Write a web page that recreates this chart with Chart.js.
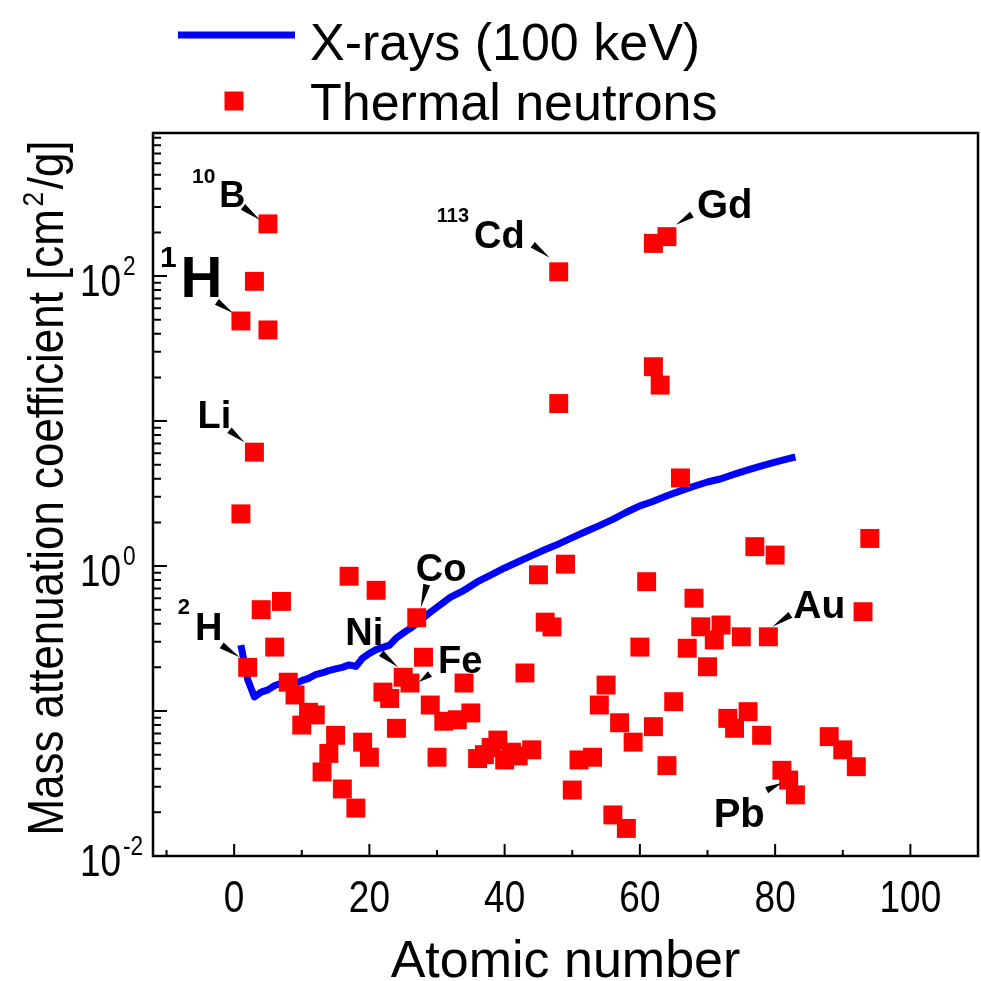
<!DOCTYPE html>
<html>
<head>
<meta charset="utf-8">
<script src="https://cdn.jsdelivr.net/npm/chart.js@4.4.1/dist/chart.umd.min.js"></script>
<style>
    html, body { margin: 0; padding: 0; background: #fff; }
    canvas { display: block; }
</style>
</head>
<body>
<canvas id="attenuationChart" width="981" height="981"></canvas>
<script>
// X-rays (100 keV): atomic number vs mass attenuation coefficient [cm2/g]
const xrayZ = [1, 2, 3, 4, 5, 6, 7, 8, 9, 10, 11, 12, 13, 14, 15, 16, 17, 18, 19, 20,
    21, 22, 23, 24, 25, 26, 27, 28, 29, 30, 32, 34, 36, 38, 40, 42, 44, 46, 48, 50,
    52, 54, 56, 58, 60, 62, 64, 66, 68, 70, 72, 74, 76, 78, 80, 82, 83];
const xrayMu = [0.285, 0.165, 0.125, 0.135, 0.14, 0.15, 0.155, 0.157, 0.155, 0.162,
    0.168, 0.178, 0.183, 0.19, 0.195, 0.2, 0.208, 0.203, 0.232, 0.25,
    0.265, 0.275, 0.285, 0.32, 0.345, 0.37, 0.4, 0.44, 0.48, 0.52,
    0.61, 0.68, 0.78, 0.87, 0.97, 1.07, 1.18, 1.3, 1.42, 1.57,
    1.73, 1.9, 2.1, 2.35, 2.6, 2.8, 3.05, 3.3, 3.55, 3.8,
    4.0, 4.3, 4.6, 4.9, 5.2, 5.5, 5.65];

// Thermal neutrons
const neutronZ = [1, 1, 2, 3, 3, 4, 5, 5, 6, 7, 8, 9, 10, 11, 12, 13, 14, 15, 16, 17,
    18, 19, 20, 21, 22, 23, 24, 25, 26, 27, 28, 29, 30, 31, 33, 34, 35, 36, 37, 38,
    39, 40, 41, 42, 43, 44, 45, 46, 47, 48, 48, 49, 50, 51, 53, 54, 55, 56, 57, 58,
    59, 60, 61, 62, 62, 62, 63, 64, 64, 65, 66, 67, 68, 69, 70, 71, 72, 73, 74, 75,
    76, 77, 78, 79, 80, 81, 82, 83, 88, 90, 92, 93, 94];
const neutronMu = [49, 2.29, 0.2, 92, 6.1, 0.5, 229, 42.5, 0.276, 0.57, 0.158, 0.129, 0.08, 0.098, 0.094, 0.038, 0.051, 0.068, 0.029, 0.85,
    0.0214, 0.061, 0.048, 0.68, 0.135, 0.122, 0.076, 0.171, 0.156, 0.44, 0.235, 0.11, 0.048, 0.085, 0.087, 0.156, 0.097, 0.047, 0.05, 0.056,
    0.063, 0.046, 0.052, 0.049, 0.183, 0.054, 0.87, 0.41, 0.38, 107, 13.2, 1.03, 0.0285, 0.046, 0.048, 0.11, 0.151, 0.0192, 0.083, 0.0155,
    0.061, 0.276, 0.78, 168, 23.7, 0.078, 17.7, 187, 0.042, 0.116, 4.05, 0.271, 0.6, 0.381, 0.202, 0.309, 0.392, 0.089, 0.076, 0.325,
    0.099, 1.36, 0.068, 0.325, 1.19, 0.039, 0.0334, 0.0264, 0.0666, 0.054, 0.0413, 0.484, 1.55];

// axis ticks
const xMajorTicks = [0, 20, 40, 60, 80, 100];
const xMinorTicks = [-10, 10, 30, 50, 70, 90];
const yLabelExponents = [-2, 0, 2];

// element annotations
const labelIsotopes = ['10', '1', '', '2', '', '', '', '113', '', '', ''];
const labelNames = ['B', 'H', 'Li', 'H', 'Ni', 'Co', 'Fe', 'Cd', 'Gd', 'Au', 'Pb'];
const labelZ = [5, 1, 3, 2, 25, 27, 26, 48, 64, 79, 82];
const labelMu = [229, 49, 6.1, 0.2, 0.171, 0.44, 0.156, 107, 187, 0.325, 0.0334];

// pixel offsets of each annotation from its point (layout only)
const labelLayout = [
    { dx: -76, dy: -17, size: 36, supSize: 21, raise: 24, gap: 4, arrow: [-25, -17, -8, -4] },
    { dx: -81, dy: -24, size: 58, supSize: 30, raise: 30, gap: 4, arrow: [-24, -19, -8, -8] },
    { dx: -57, dy: -24, size: 38, arrow: [-25, -22, -10, -10] },
    { dx: -70, dy: -27, size: 38, supSize: 22, raise: 26, gap: 5, arrow: [-26, -22, -8, -10] },
    { dx: -58, dy: -32, size: 38, arrow: [-22, -24, -5, -10] },
    { dx: -1, dy: -37, size: 38, arrow: [10, -33, 4, -10] },
    { dx: 28, dy: -10, size: 38, arrow: [20, -9, 9, -1] },
    { dx: -122, dy: -24, size: 38, supSize: 20, raise: 26, gap: 5, arrow: [-26, -27, -9, -14] },
    { dx: 30, dy: -19, size: 40, arrow: [25, -22, 9, -12] },
    { dx: 25, dy: -19, size: 39, arrow: [22, -22, 4, -10] },
    { dx: -75, dy: 47, size: 40, arrow: [-22, 10, -7, 3] }
];

const FONT = '"Liberation Sans", Arial, Helvetica, sans-serif';
const NARROW = 0.84;

function narrowText(ctx, text, x, y, size, align) {
    ctx.save();
    ctx.font = size + 'px ' + FONT;
    ctx.translate(x, y);
    ctx.scale(NARROW, 1);
    ctx.textAlign = align;
    ctx.textBaseline = 'alphabetic';
    ctx.fillText(text, 0, 0);
    ctx.restore();
}

function wedge(ctx, x1, y1, x2, y2, w) {
    const dx = x2 - x1, dy = y2 - y1, len = Math.hypot(dx, dy);
    const nx = -dy / len * w / 2, ny = dx / len * w / 2;
    ctx.beginPath();
    ctx.moveTo(x1 + nx, y1 + ny);
    ctx.lineTo(x1 - nx, y1 - ny);
    ctx.lineTo(x2, y2);
    ctx.closePath();
    ctx.fill();
}

const framePlugin = {
    id: 'frame',
    afterDraw(chart) {
        const { ctx, chartArea: a, scales: { x, y } } = chart;
        ctx.save();
        ctx.strokeStyle = '#000';
        ctx.fillStyle = '#000';

        // box
        ctx.lineWidth = 2.5;
        ctx.strokeRect(a.left, a.top, a.right - a.left, a.bottom - a.top);

        // inward ticks
        ctx.lineWidth = 2;
        ctx.beginPath();
        xMajorTicks.forEach(v => {
            const px = x.getPixelForValue(v);
            ctx.moveTo(px, a.bottom); ctx.lineTo(px, a.bottom - 12);
        });
        xMinorTicks.forEach(v => {
            const px = x.getPixelForValue(v);
            ctx.moveTo(px, a.bottom); ctx.lineTo(px, a.bottom - 6);
        });
        for (let e = -2; e <= 2; e++) {
            for (let m = 1; m <= 9; m++) {
                const v = m * Math.pow(10, e);
                if (v > y.max) break;
                const py = y.getPixelForValue(v);
                ctx.moveTo(a.left, py); ctx.lineTo(a.left + (m === 1 ? 14 : 8), py);
            }
        }
        ctx.stroke();

        // tick labels
        xMajorTicks.forEach(v => narrowText(ctx, String(v), x.getPixelForValue(v), 912, 44, 'center'));
        yLabelExponents.forEach(e => {
            const py = y.getPixelForValue(Math.pow(10, e));
            narrowText(ctx, '10', 80, py + 20, 44, 'left');
            narrowText(ctx, String(e), 123, py - 1, 27, 'left');
        });

        // axis titles
        ctx.font = '52px ' + FONT;
        ctx.textAlign = 'center';
        ctx.textBaseline = 'alphabetic';
        ctx.fillText('Atomic number', (a.left + a.right) / 2, 977);

        ctx.save();
        ctx.translate(63, 488);
        ctx.rotate(-Math.PI / 2);
        const partA = 'Mass attenuation coefficient [cm', partB = '2', partC = '/g]';
        ctx.font = '50px ' + FONT;
        const wA = ctx.measureText(partA).width, wC = ctx.measureText(partC).width;
        ctx.font = '30px ' + FONT;
        const wB = ctx.measureText(partB).width + 6;
        const total = wA + wB + wC;
        const k = 695 / total;
        ctx.scale(k, 1);
        ctx.textAlign = 'left';
        let tx = -total / 2;
        ctx.font = '50px ' + FONT;
        ctx.fillText(partA, tx, 0);
        tx += wA + 3;
        ctx.font = '30px ' + FONT;
        ctx.fillText(partB, tx, -20);
        tx += wB - 3;
        ctx.font = '50px ' + FONT;
        ctx.fillText(partC, tx, 0);
        ctx.restore();

        // element annotations
        labelNames.forEach((name, i) => {
            const L = labelLayout[i];
            const px = x.getPixelForValue(labelZ[i]);
            const py = y.getPixelForValue(labelMu[i]);
            let left = px + L.dx;
            const base = py + L.dy;
            ctx.textAlign = 'left';
            if (labelIsotopes[i]) {
                ctx.font = 'bold ' + L.supSize + 'px ' + FONT;
                ctx.fillText(labelIsotopes[i], left, base - L.raise);
                left += ctx.measureText(labelIsotopes[i]).width + L.gap;
            }
            ctx.font = 'bold ' + L.size + 'px ' + FONT;
            ctx.fillText(name, left, base);
            const ar = L.arrow;
            wedge(ctx, px + ar[0], py + ar[1], px + ar[2], py + ar[3], 7);
        });

        // legend
        const ds = chart.data.datasets;
        ctx.strokeStyle = ds[1].borderColor;
        ctx.lineWidth = 7;
        ctx.beginPath();
        ctx.moveTo(178, 35); ctx.lineTo(295, 35);
        ctx.stroke();
        ctx.fillStyle = ds[0].backgroundColor;
        ctx.fillRect(234 - 9.5, 101 - 9.5, 19, 19);
        ctx.fillStyle = '#000';
        ctx.font = '52px ' + FONT;
        ctx.textAlign = 'left';
        ctx.fillText(ds[1].label, 310, 60);
        ctx.fillText(ds[0].label, 310, 120);

        ctx.restore();
    }
};

new Chart(document.getElementById('attenuationChart'), {
    type: 'scatter',
    data: {
        datasets: [
            {
                label: 'Thermal neutrons',
                data: neutronZ.map((z, i) => ({ x: z, y: neutronMu[i] })),
                pointStyle: 'rect',
                pointRadius: 13.4,
                pointHoverRadius: 13.4,
                backgroundColor: '#ff0000',
                borderColor: '#ff0000',
                borderWidth: 0,
                order: 0
            },
            {
                label: 'X-rays (100 keV)',
                data: xrayZ.map((z, i) => ({ x: z, y: xrayMu[i] })),
                showLine: true,
                pointRadius: 0,
                pointHoverRadius: 0,
                borderColor: '#0000ff',
                borderWidth: 7,
                borderJoinStyle: 'round',
                tension: 0,
                order: 1
            }
        ]
    },
    options: {
        responsive: false,
        animation: false,
        events: [],
        layout: { autoPadding: false, padding: { top: 133, right: 3, left: 0, bottom: 0 } },
        plugins: {
            legend: { display: false },
            tooltip: { enabled: false }
        },
        scales: {
            x: {
                type: 'linear',
                min: -12,
                max: 110,
                grid: { display: false },
                border: { display: false },
                ticks: { display: false },
                afterFit(scale) { scale.height = 125; }
            },
            y: {
                type: 'logarithmic',
                min: 0.01,
                max: 970,
                grid: { display: false },
                border: { display: false },
                ticks: { display: false },
                afterFit(scale) { scale.width = 153; }
            }
        }
    },
    plugins: [framePlugin]
});
</script>
</body>
</html>
